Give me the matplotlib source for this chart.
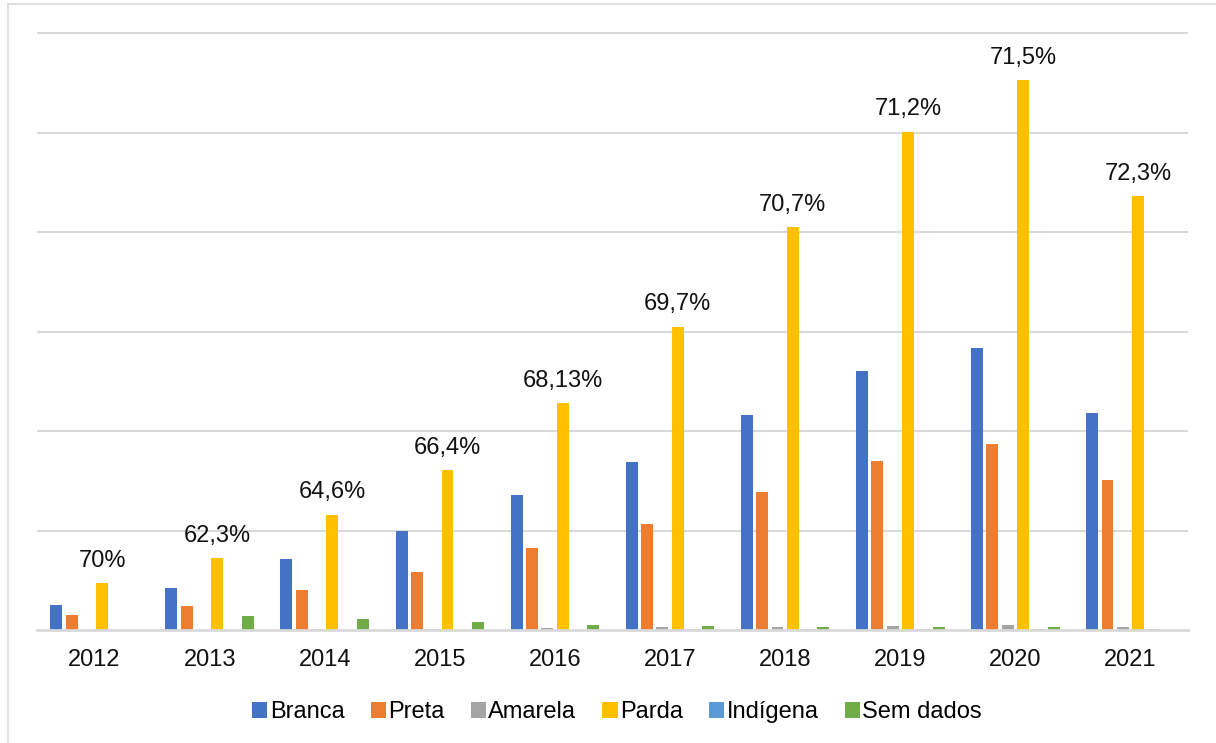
import numpy as np
import matplotlib
matplotlib.use("Agg")
import matplotlib.pyplot as plt
from matplotlib.lines import Line2D

plt.rcParams['font.family'] = ['Liberation Sans', 'DejaVu Sans']

anos = ['2012', '2013', '2014', '2015', '2016', '2017', '2018', '2019', '2020', '2021']
branca = [0.25, 0.42, 0.71, 0.99, 1.36, 1.69, 2.16, 2.60, 2.83, 2.18]
preta = [0.155, 0.24, 0.40, 0.58, 0.825, 1.07, 1.39, 1.70, 1.87, 1.51]
amarela = [0.0, 0.005, 0.01, 0.015, 0.02, 0.03, 0.035, 0.045, 0.05, 0.035]
parda = [0.47, 0.72, 1.16, 1.61, 2.28, 3.05, 4.05, 5.01, 5.53, 4.36]
indigena = [0.0, 0.0, 0.0, 0.0, 0.005, 0.01, 0.01, 0.015, 0.015, 0.012]
sem_dados = [0.0, 0.14, 0.115, 0.08, 0.055, 0.045, 0.035, 0.035, 0.035, 0.0]
rotulos_parda = ['70%', '62,3%', '64,6%', '66,4%', '68,13%', '69,7%', '70,7%', '71,2%', '71,5%', '72,3%']

series = [('Branca', branca, '#4472C4'),
          ('Preta', preta, '#ED7D31'),
          ('Amarela', amarela, '#A5A5A5'),
          ('Parda', parda, '#FFC000'),
          ('Indígena', indigena, '#5B9BD5'),
          ('Sem dados', sem_dados, '#70AD47')]

fig = plt.figure(figsize=(12.16, 7.43), dpi=100)
ytop = 6.05
ax = fig.add_axes([37/1216, 113/743, 1151/1216, (597/743)*ytop/6])

x = np.arange(len(anos))
slot = 0.133
w = 0.104
for i, (nome, vals, cor) in enumerate(series):
    b = ax.bar(x + (i - 2.5)*slot, vals, w, color=cor, label=nome, zorder=3)
    if nome == 'Parda':
        for rect, txt in zip(b, rotulos_parda):
            ax.annotate(txt, (rect.get_x() + rect.get_width()/2, rect.get_height()),
                        xytext=(0, 8), textcoords='offset points',
                        ha='center', va='bottom', fontsize=17, color='#111111')

ax.set_xlim(-0.5, len(anos) - 0.5)
ax.set_ylim(0, ytop)
ax.set_yticks(range(1, 7))
ax.yaxis.grid(True, color='#d9d9d9', linewidth=1.5, zorder=0)
ax.set_yticklabels([])
ax.tick_params(axis='y', length=0)
ax.set_xticks(x)
ax.set_xticklabels(anos, fontsize=17, color='#111111')
ax.tick_params(axis='x', length=0, pad=13.5)
for s in ['top', 'right', 'left']:
    ax.spines[s].set_visible(False)
ax.spines['bottom'].set_color('#d9d9d9')
ax.spines['bottom'].set_linewidth(2)
ax.spines['bottom'].set_zorder(4)

fig.legend(loc='center', bbox_to_anchor=(617/1216, 31/743), ncol=6, frameon=False,
           fontsize=17, handlelength=0.65, handleheight=0.65, handletextpad=0.1,
           columnspacing=1.1)

# moldura cinza (borda da imagem original)
fig.add_artist(Line2D([7.5/1216, 1], [1 - 4/743, 1 - 4/743], color='#d9d9d9', lw=1.2))
fig.add_artist(Line2D([7.5/1216, 7.5/1216], [0, 1 - 4/743], color='#d9d9d9', lw=1.2))

fig.savefig('out.png', dpi=100)
